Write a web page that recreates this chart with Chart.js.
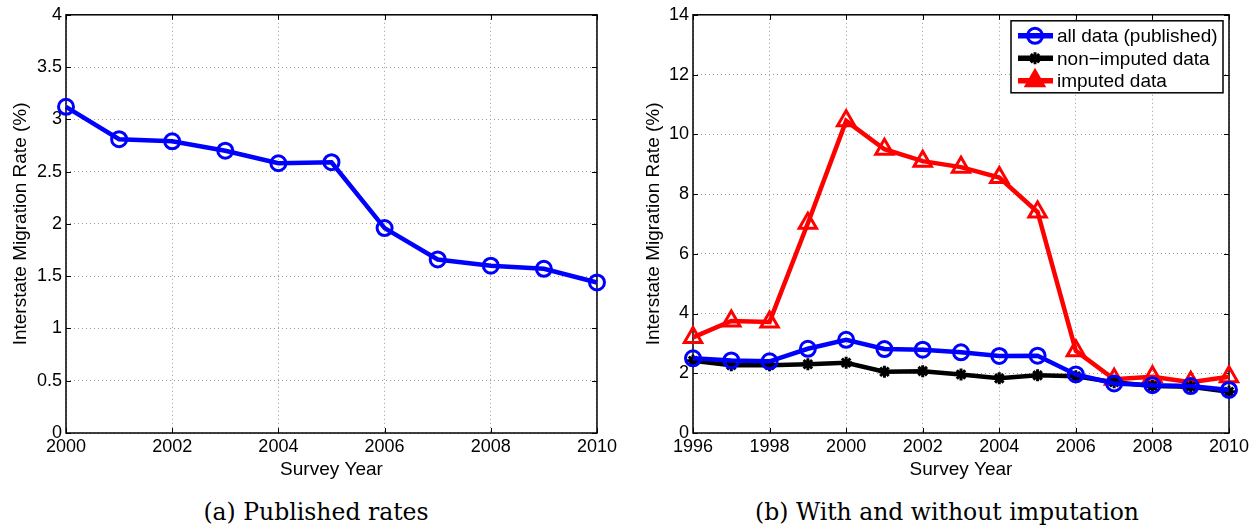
<!DOCTYPE html>
<html>
<head>
<meta charset="utf-8">
<script src="https://cdn.jsdelivr.net/npm/chart.js"></script>
<style>
  body { margin: 0; background: #fff; width: 1260px; height: 531px; position: relative; overflow: hidden; }
  .wrap { position: absolute; top: 0; height: 490px; }
  .caption { position: absolute; top: 498px; font-family: "DejaVu Serif", "Liberation Serif", serif; font-size: 23.5px; color: #000; transform: translateX(-50%); white-space: nowrap; }
</style>
</head>
<body>
<div class="wrap" style="left:0;width:620px"><canvas id="chartA"></canvas></div>
<div class="wrap" style="left:630px;width:630px"><canvas id="chartB"></canvas></div>
<div class="caption" style="left:316px">(a) Published rates</div>
<div class="caption" style="left:947px">(b) With and without imputation</div>
<script>
// Survey years and rates (%)
const yearsA = [2000, 2001, 2002, 2003, 2004, 2005, 2006, 2007, 2008, 2009, 2010];
const publishedA = [3.12, 2.81, 2.79, 2.70, 2.58, 2.59, 1.96, 1.66, 1.60, 1.57, 1.44];

const yearsB = [1996, 1997, 1998, 1999, 2000, 2001, 2002, 2003, 2004, 2005, 2006, 2007, 2008, 2009, 2010];
const allData = [2.50, 2.43, 2.40, 2.82, 3.12, 2.81, 2.79, 2.70, 2.58, 2.59, 1.96, 1.66, 1.60, 1.57, 1.44];
const nonImputed = [2.42, 2.27, 2.27, 2.30, 2.35, 2.05, 2.07, 1.96, 1.83, 1.93, 1.90, 1.70, 1.57, 1.55, 1.38];
const imputed = [3.20, 3.75, 3.72, 7.02, 10.45, 9.50, 9.10, 8.90, 8.55, 7.40, 2.75, 1.80, 1.88, 1.70, 1.88];

const legendLabels = ['all data (published)', 'non\u2212imputed data', 'imputed data'];

const FONT = 'Liberation Sans, Arial, sans-serif';

function toPoints(xs, ys) {
  return xs.map((x, i) => ({ x: x, y: ys[i] }));
}

const blueStyle = {
  borderColor: '#0000ff', backgroundColor: 'rgba(0,0,0,0)', borderWidth: 4.5, clip: false,
  pointStyle: 'circle', pointRadius: 7.5, pointBorderWidth: 3, pointBorderColor: '#0000ff',
  pointBackgroundColor: 'rgba(0,0,0,0)', tension: 0
};
const blackStyle = {
  borderColor: '#000000', backgroundColor: 'rgba(0,0,0,0)', borderWidth: 4.5, clip: false,
  pointStyle: 'star', pointRadius: 6, pointBorderWidth: 3, pointBorderColor: '#000000',
  pointBackgroundColor: '#000000', tension: 0
};
const redStyle = {
  borderColor: '#ff0000', backgroundColor: 'rgba(0,0,0,0)', borderWidth: 4.5, clip: false,
  pointStyle: 'triangle', pointRadius: 10, pointBorderWidth: 3, pointBorderColor: '#ff0000',
  pointBackgroundColor: 'rgba(0,0,0,0)', tension: 0
};

// Frame box plus MATLAB-like inward tick marks
const framePlugin = {
  id: 'frame',
  beforeDatasetsDraw(chart) {
    const ctx = chart.ctx;
    const a = chart.chartArea;
    const xs = chart.scales.x, ys = chart.scales.y;
    ctx.save();
    ctx.strokeStyle = '#000';
    ctx.lineWidth = 1;
    ctx.beginPath();
    xs.ticks.forEach(t => {
      const px = Math.round(xs.getPixelForValue(t.value)) + 0.5;
      ctx.moveTo(px, a.bottom); ctx.lineTo(px, a.bottom - 5);
      ctx.moveTo(px, a.top); ctx.lineTo(px, a.top + 5);
    });
    ys.ticks.forEach(t => {
      const py = Math.round(ys.getPixelForValue(t.value)) + 0.5;
      ctx.moveTo(a.left, py); ctx.lineTo(a.left + 5, py);
      ctx.moveTo(a.right, py); ctx.lineTo(a.right - 5, py);
    });
    ctx.stroke();
    ctx.lineWidth = 1.5;
    ctx.strokeRect(a.left, a.top, a.right - a.left, a.bottom - a.top);
    ctx.restore();
  }
};

// Legend box drawn inside the plot area, top right
const insideLegend = {
  id: 'insideLegend',
  afterDraw(chart, args, opts) {
    if (!opts.show) return;
    const ctx = chart.ctx;
    const a = chart.chartArea;
    const w = 212, h = 72;
    const x0 = a.right - 6 - w, y0 = a.top + 6;
    ctx.save();
    ctx.fillStyle = '#fff';
    ctx.fillRect(x0, y0, w, h);
    ctx.strokeStyle = '#000';
    ctx.lineWidth = 1.5;
    ctx.strokeRect(x0, y0, w, h);
    ctx.font = '19px ' + FONT;
    ctx.textBaseline = 'middle';
    chart.data.datasets.forEach((ds, i) => {
      const cy = y0 + 15 + i * 22.5;
      ctx.strokeStyle = ds.borderColor;
      ctx.lineWidth = ds.borderWidth + 1;
      ctx.beginPath();
      ctx.moveTo(x0 + 7, cy); ctx.lineTo(x0 + 42, cy);
      ctx.stroke();
      ctx.strokeStyle = ds.pointBorderColor;
      ctx.fillStyle = ds.pointStyle === 'triangle' ? ds.pointBorderColor : ds.pointBackgroundColor;
      ctx.lineWidth = ds.pointBorderWidth;
      Chart.helpers.drawPoint(ctx, { pointStyle: ds.pointStyle, radius: ds.pointRadius, rotation: 0, borderWidth: ds.pointBorderWidth }, x0 + 24, cy);
      ctx.fillStyle = '#000';
      ctx.fillText(ds.label, x0 + 46, cy + 1);
    });
    ctx.restore();
  }
};

function makeOptions(cfg) {
  return {
    responsive: true,
    maintainAspectRatio: false,
    animation: false,
    layout: { padding: { top: 11, right: cfg.padRight, left: cfg.padLeft, bottom: 9 } },
    plugins: {
      legend: { display: false },
      tooltip: { enabled: false },
      insideLegend: { show: cfg.legend }
    },
    scales: {
      x: {
        type: 'linear',
        min: cfg.xMin, max: cfg.xMax,
        ticks: { stepSize: 2, color: '#000', font: { family: FONT, size: 18 }, padding: 3, maxRotation: 0,
                 callback: v => String(v) },
        grid: { color: '#9a9a9a', lineWidth: 1, drawTicks: false },
        border: { display: false, dash: [1, 3] },
        title: { display: true, text: 'Survey Year', color: '#000', font: { family: FONT, size: 19 }, padding: { top: 0, bottom: 0 } },
        afterFit: s => { s.height = 48; }
      },
      y: {
        min: 0, max: cfg.yMax,
        ticks: { stepSize: cfg.yStep, color: '#000', font: { family: FONT, size: 18 }, padding: 4,
                 callback: v => String(Math.round(v * 10) / 10) },
        grid: { color: '#9a9a9a', lineWidth: 1, drawTicks: false },
        border: { display: false, dash: [1, 3] },
        title: { display: true, text: 'Interstate Migration Rate (%)', color: '#000', font: { family: FONT, size: 19 }, padding: { top: 0, bottom: 0 } },
        afterFit: s => { s.width = cfg.yWidth; }
      }
    }
  };
}

Chart.register(framePlugin, insideLegend);

new Chart(document.getElementById('chartA'), {
  type: 'line',
  data: {
    datasets: [Object.assign({ label: legendLabels[0], data: toPoints(yearsA, publishedA) }, blueStyle)]
  },
  options: makeOptions({ xMin: 2000, xMax: 2010, yMax: 4, yStep: 0.5, padLeft: 9, yWidth: 57, padRight: 18, legend: false })
});

new Chart(document.getElementById('chartB'), {
  type: 'line',
  data: {
    datasets: [
      Object.assign({ label: legendLabels[0], data: toPoints(yearsB, allData) }, blueStyle),
      Object.assign({ label: legendLabels[1], data: toPoints(yearsB, nonImputed) }, blackStyle),
      Object.assign({ label: legendLabels[2], data: toPoints(yearsB, imputed) }, redStyle)
    ]
  },
  options: makeOptions({ xMin: 1996, xMax: 2010, yMax: 14, yStep: 2, padLeft: 12, yWidth: 51, padRight: 31, legend: true })
});
</script>
</body>
</html>
